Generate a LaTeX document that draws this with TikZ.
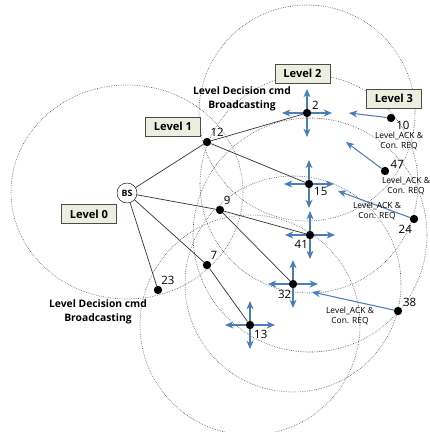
\documentclass[tikz,border=0pt]{standalone}
\usepackage{fontspec}
\setmainfont{Open Sans}
\usepackage{xcolor}
\usetikzlibrary{arrows.meta,positioning}
\definecolor{lvlfill}{HTML}{EBEFDF}
\definecolor{ackblue}{HTML}{4A7EBB}

\begin{document}
\begin{tikzpicture}[x=0.03cm, y=-0.03cm,
  lvlbox/.style={draw=black!70, fill=lvlfill, minimum width=1.64cm, minimum height=0.58cm, inner sep=0, font=\fontsize{9.5}{10}\selectfont\bfseries},
  nodedot/.style={circle, fill=black, minimum size=0.25cm, inner sep=0},
  numlbl/.style={font=\fontsize{9.8}{10}\selectfont, inner sep=1pt},
  zone/.style={black!75, densely dotted, line width=0.5pt},
  linkline/.style={black!80, line width=0.6pt},
  bcarr/.style={-{Stealth[length=2.5mm, width=2.1mm]}, ackblue, line width=0.9pt},
  notetxt/.style={font=\fontsize{7.2}{8.5}\selectfont, align=center, inner sep=0},
  cmdtxt/.style={font=\fontsize{8.8}{12}\selectfont\bfseries, align=center, inner sep=0}
]
\useasboundingbox (0,0) rectangle (429,432);
% ranges
\draw[zone] (127,192) ellipse [x radius=116, y radius=107];
\draw[zone] (307,113) circle [radius=108];
\draw[zone] (309,184) circle [radius=109];
\draw[zone] (310,235) circle [radius=117];
\draw[zone] (293,284) circle [radius=108];
\draw[zone] (250,325) circle [radius=110];

\node[draw, circle, fill=white, minimum size=0.6cm, inner sep=0, font=\fontsize{7.5}{8}\selectfont\bfseries] (bs) at (127,193) {BS};
\node[nodedot, label={[numlbl]60:12}] (n12) at (207,142) {};
\node[nodedot, label={[numlbl]30:2}] (n2) at (307,113) {};
\node[nodedot, label={[numlbl]-25:10}] (n10) at (391,118) {};
\node[nodedot, label={[numlbl]10:47}] (n47) at (385,171) {};
\node[nodedot, label={[numlbl]-100:24}] (n24) at (414,219) {};
\node[nodedot, label={[numlbl]-30:15}] (n15) at (309,184) {};
\node[nodedot, label={[numlbl]55:9}] (n9) at (220,210) {};
\node[nodedot, label={[numlbl]-100:41}] (n41) at (310,235) {};
\node[nodedot, label={[numlbl]60:7}] (n7) at (207,265) {};
\node[nodedot, label={[numlbl]65:23}] (n23) at (158,290) {};
\node[nodedot, label={[numlbl]-95:32}] (n32) at (293,284) {};
\node[nodedot, label={[numlbl]-50:13}] (n13) at (250,325) {};
\node[nodedot, label={[numlbl]35:38}] (n38) at (398,311) {};

\draw[linkline] (bs) -- (n12); \draw[linkline] (bs) -- (n9);
\draw[linkline] (bs) -- (n7); \draw[linkline] (bs) -- (n23);
\draw[linkline] (n12) -- (n2); \draw[linkline] (n12) -- (n15);
\draw[linkline] (n9) -- (n41); \draw[linkline] (n9) -- (n32);
\draw[linkline] (n7) -- (n13);

% broadcast crosses
\foreach \n in {n2,n15,n41,n32,n13} {
  \path (\n) +(25,0) coordinate (\n-e) +(-25,0) coordinate (\n-w)
             +(0,-24) coordinate (\n-n) +(0,24) coordinate (\n-s);
  \draw[bcarr] (\n) -- (\n-e); \draw[bcarr] (\n) -- (\n-w);
  \draw[bcarr] (\n) -- (\n-n); \draw[bcarr] (\n) -- (\n-s);
}

\coordinate (a10) at (349,113); \draw[bcarr] (n10) -- (a10);
\coordinate (a47) at (346,142); \draw[bcarr] (n47) -- (a47);
\coordinate (a24) at (338,191); \draw[bcarr] (n24) -- (a24);
\coordinate (a38) at (312,292); \draw[bcarr] (n38) -- (a38);

\node[lvlbox] (lv0) at (89,214) {Level 0};
\node[lvlbox] (lv1) at (173,126.5) {Level 1};
\node[lvlbox] (lv2) at (302.5,73.5) {Level 2};
\node[lvlbox] (lv3) at (394,98.5) {Level 3};

\node[cmdtxt] (cmd1) at (242,99) {Level Decision cmd\\Broadcasting};
\node[cmdtxt] (cmd0) at (98,312) {Level Decision cmd\\Broadcasting};

\node[notetxt] (ack10) at (399,141) {Level\_ACK \&\\Con. REQ};
\node[notetxt] (ack47) at (406,186) {Level\_ACK \&\\Con. REQ};
\node[notetxt] (ack24) at (377,211) {Level\_ACK \&\\Con. REQ};
\node[notetxt] (ack38) at (350,316) {Level\_ACK \&\\Con. REQ};
\end{tikzpicture}
\end{document}
